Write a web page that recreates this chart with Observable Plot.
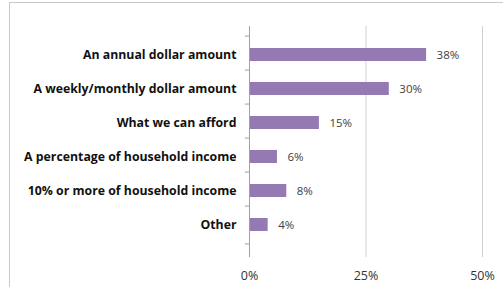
<!DOCTYPE html>
<html>
<head>
<meta charset="utf-8">
<script src="https://cdn.jsdelivr.net/npm/d3@7"></script>
<script src="https://cdn.jsdelivr.net/npm/@observablehq/plot@0.6"></script>
<style>
  html, body { margin: 0; padding: 0; background: #fff; }
  #wrap { position: relative; width: 503px; height: 287px; overflow: hidden; }
  #border { position: absolute; left: 9px; top: 2px; width: 600px; height: 400px; border: 1px solid #c8c8c8; box-sizing: border-box; }
  #chart { position: absolute; left: 0; top: 0; }
</style>
</head>
<body>
<div id="wrap"><div id="border"></div><div id="chart"></div></div>
<script>
const categories = [
  "An annual dollar amount",
  "A weekly/monthly dollar amount",
  "What we can afford",
  "A percentage of household income",
  "10% or more of household income",
  "Other"
];
const values = [38, 30, 15, 6, 8, 4];
const valueLabels = ["38%", "30%", "15%", "6%", "8%", "4%"];
const xTicks = [0, 25, 50];

const data = categories.map((c, i) => ({category: c, value: values[i], label: valueLabels[i]}));
const last = [data[data.length - 1]];

const height = 287, marginTop = 26, marginBottom = 34;
const step = (height - marginTop - marginBottom) / categories.length;

const chart = Plot.plot({
  width: 503,
  height,
  marginLeft: 249,
  marginRight: 21,
  marginTop,
  marginBottom,
  style: {fontFamily: "'Open Sans', sans-serif", fontSize: "11px", background: "transparent", color: "#222"},
  x: {domain: [0, 50]},
  y: {domain: categories, padding: 0.63, align: 0.5},
  marks: [
    Plot.ruleX(xTicks.filter(d => d > 0), {stroke: "#d0d0d0", strokeWidth: 1, strokeOpacity: 1, insetBottom: -4}),
    Plot.barX(data, {y: "category", x: "value", fill: "#9479b3"}),
    Plot.text(data, {y: "category", x: "value", text: "label", textAnchor: "start", dx: 10, fill: "#404040", fontSize: 11.5}),
    Plot.ruleX([0], {stroke: "#a0a0a0", insetBottom: -4}),
    Plot.ruleY(data, {y: "category", x1: -0.9, x2: 0, dy: -step / 2, stroke: "#a0a0a0", clip: false}),
    Plot.ruleY(last, {y: "category", x1: -0.9, x2: 0, dy: step / 2, stroke: "#a0a0a0", clip: false}),
    Plot.axisY({tickSize: 0, tickPadding: 13, fontWeight: "bold", fontSize: 12.3, fill: "#111", label: null}),
    Plot.axisX({ticks: xTicks, tickSize: 0, tickPadding: 18, tickFormat: d => d + "%", fontSize: 12.5, fill: "#333", label: null})
  ]
});
document.getElementById("chart").append(chart);
</script>
</body>
</html>
